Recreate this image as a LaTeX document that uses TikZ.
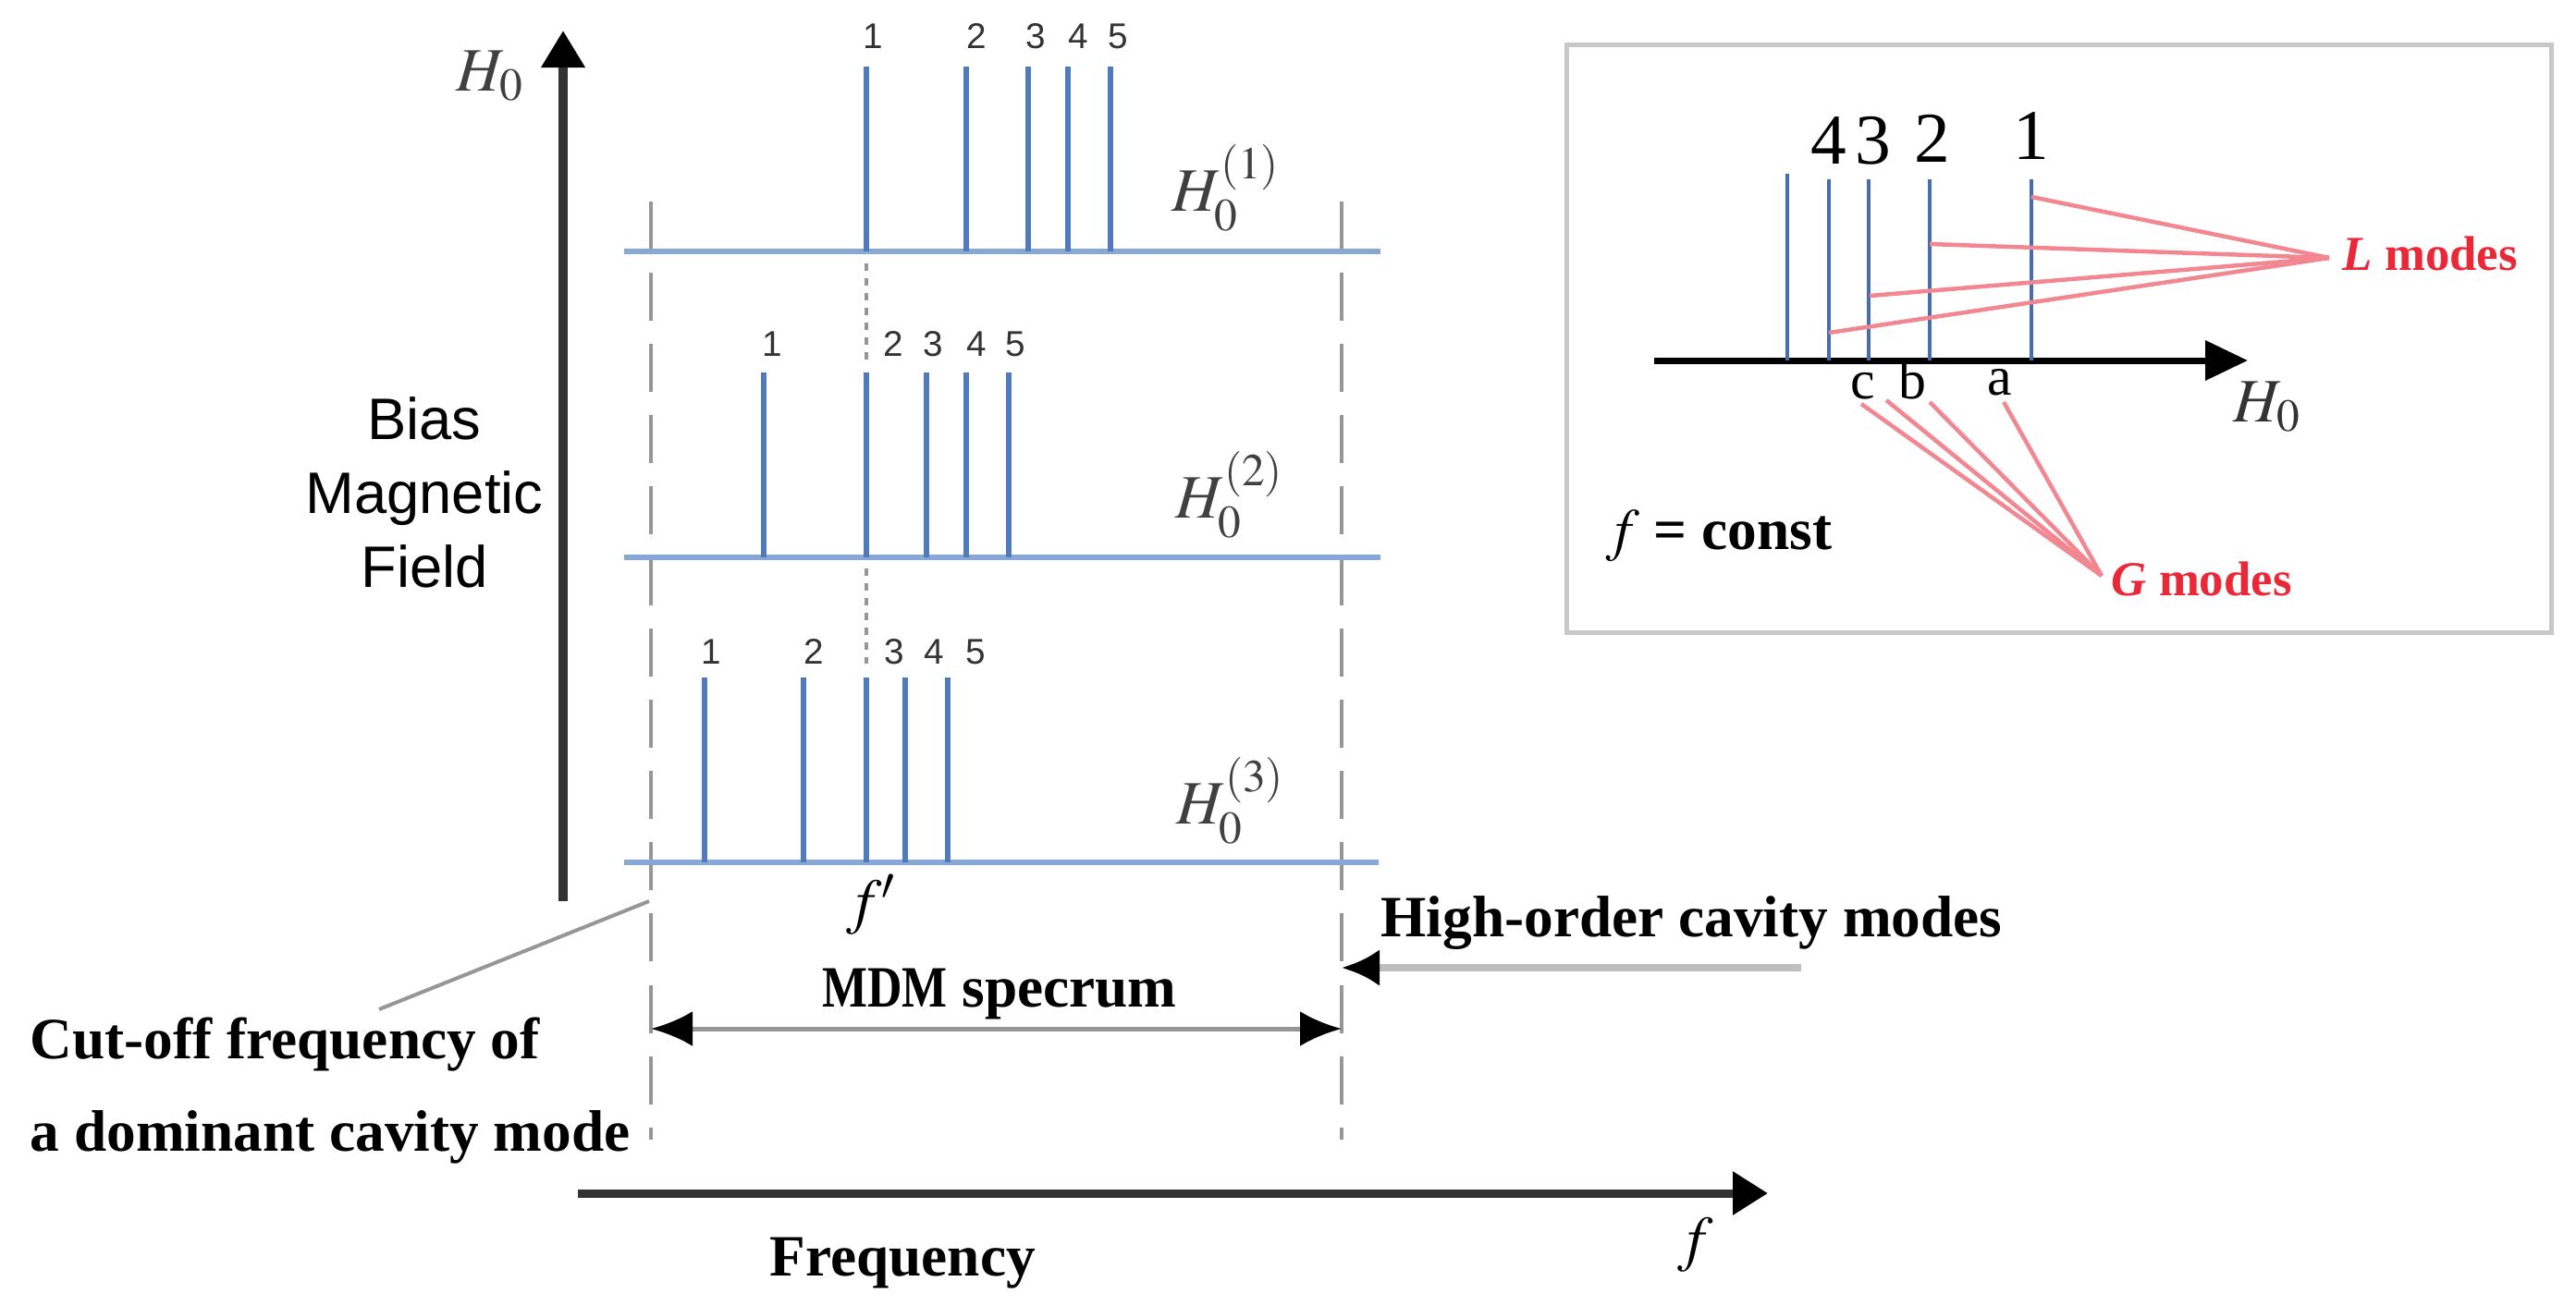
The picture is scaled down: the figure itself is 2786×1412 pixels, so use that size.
\documentclass[tikz,border=0pt]{standalone}
\usepackage{graphicx}
\usepackage{mathptmx}
\usepackage[no-math]{fontspec}
\setmainfont{Liberation Serif}
\setsansfont{Liberation Sans}
\usetikzlibrary{arrows.meta}
\definecolor{baseblue}{RGB}{135,168,212}
\definecolor{spikeblue}{RGB}{80,122,186}
\definecolor{ispikeblue}{RGB}{70,110,175}
\definecolor{dashgray}{RGB}{150,150,150}
\definecolor{axisgray}{RGB}{50,50,50}
\definecolor{modered}{RGB}{235,40,55}
\definecolor{modeline}{RGB}{243,135,145}
\definecolor{boxgray}{RGB}{200,200,200}
\definecolor{leadgray}{RGB}{150,150,150}
\definecolor{hogray}{RGB}{190,190,190}
\begin{document}
\begin{tikzpicture}[x=0.01cm,y=-0.01cm,
  baseln/.style={draw=baseblue,line width=0.06cm},
  spike/.style={draw=spikeblue,line width=0.055cm},
  ispike/.style={draw=ispikeblue,line width=0.045cm},
  guide/.style={draw=dashgray,line width=0.045cm,dash pattern=on 0.52cm off 0.25cm},
  dots/.style={draw=dashgray,line width=0.045cm,dash pattern=on 0.08cm off 0.08cm},
  numlbl/.style={font=\sffamily\fontsize{11}{13}\selectfont,text=black!80,inner sep=0pt},
  bigtxt/.style={font=\bfseries\fontsize{18}{22}\selectfont,inner sep=0pt},
  mathlbl/.style={font=\fontsize{19}{23}\selectfont,inner sep=0pt,text=black!75},
  inum/.style={font=\fontsize{22}{26}\selectfont,inner sep=0pt},
  iletter/.style={font=\fontsize{17}{20}\selectfont,inner sep=0pt},
  redtxt/.style={font=\bfseries\fontsize{15}{18}\selectfont,text=modered,inner sep=0pt},
  redln/.style={draw=modeline,line width=0.045cm}
]
\useasboundingbox (0,0) rectangle (2786,1412);

% ---------- main vertical axis ----------
\coordinate (vbot) at (609,975);
\coordinate (vtop) at (609,33);
\draw[axisgray,line width=0.1cm,-{Triangle[length=0.4cm,width=0.45cm,color=black]}] (vbot) -- (vtop);
\node[mathlbl] (h0top) at (530,82) {$H_0$};
\node[font=\sffamily\fontsize{18}{22.8}\selectfont,align=center,inner sep=0pt] (bias) at (459,533) {Bias\\Magnetic\\Field};

% ---------- dashed guides ----------
\coordinate (gLt) at (704,218); \coordinate (gLb) at (704,1233);
\coordinate (gRt) at (1451,218); \coordinate (gRb) at (1451,1233);
\draw[guide] (gLt) -- (gLb);
\draw[guide] (gRt) -- (gRb);

% ---------- dotted reference line ----------
\coordinate (d1a) at (937,285); \coordinate (d1b) at (937,390);
\coordinate (d2a) at (937,615); \coordinate (d2b) at (937,718);
\draw[dots] (d1a) -- (d1b);
\draw[dots] (d2a) -- (d2b);

% ---------- row 1 ----------
\coordinate (r1L) at (675,272); \coordinate (r1R) at (1493,272);
\draw[baseln] (r1L) -- (r1R);
\foreach \i/\x/\lx in {1/937/944,2/1045/1056,3/1112/1120,4/1155/1166,5/1201/1209}{
  \coordinate (r1b\i) at (\x,272); \coordinate (r1t\i) at (\x,72);
  \draw[spike] (r1b\i) -- (r1t\i);
  \node[numlbl] (r1n\i) at (\lx,39) {\i};
}
\node[mathlbl] (h1) at (1326,203) {$H_0^{(1)}$};

% ---------- row 2 ----------
\coordinate (r2L) at (675,603); \coordinate (r2R) at (1493,603);
\draw[baseln] (r2L) -- (r2R);
\foreach \i/\x/\lx in {1/826/835,2/937/966,3/1002/1009,4/1045/1056,5/1091/1098}{
  \coordinate (r2b\i) at (\x,603); \coordinate (r2t\i) at (\x,403);
  \draw[spike] (r2b\i) -- (r2t\i);
  \node[numlbl] (r2n\i) at (\lx,372) {\i};
}
\node[mathlbl] (h2) at (1330,535) {$H_0^{(2)}$};

% ---------- row 3 ----------
\coordinate (r3L) at (675,933); \coordinate (r3R) at (1491,933);
\draw[baseln] (r3L) -- (r3R);
\foreach \i/\x/\lx in {1/762/769,2/869/880,3/937/967,4/979/1010,5/1025/1055}{
  \coordinate (r3b\i) at (\x,933); \coordinate (r3t\i) at (\x,733);
  \draw[spike] (r3b\i) -- (r3t\i);
  \node[numlbl] (r3n\i) at (\lx,705) {\i};
}
\node[mathlbl] (h3) at (1331,866) {$H_0^{(3)}$};

\node[mathlbl,text=black] (fprime) at (942,979) {$f'$};

% ---------- MDM spectrum ----------
\coordinate (mdmL) at (704,1113); \coordinate (mdmR) at (1451,1113);
\draw[leadgray,line width=0.05cm,{Latex[length=0.45cm,width=0.38cm,color=black]}-{Latex[length=0.45cm,width=0.38cm,color=black]}] (mdmL) -- (mdmR);
\node[bigtxt,anchor=base] (mdm) at (1081,1089) {\scalebox{0.82}[1]{MDM} specrum};

% ---------- high-order ----------
\coordinate (hoA) at (1948,1047); \coordinate (hoB) at (1451,1047);
\draw[hogray,line width=0.08cm,-{Latex[length=0.41cm,width=0.40cm,color=black]}] (hoA) -- (hoB);
\node[bigtxt,anchor=base west] (ho) at (1493,1013) {High-order cavity modes};

% ---------- cut-off ----------
\node[bigtxt,anchor=base west] (cut1) at (32,1145) {Cut-off frequency of};
\node[bigtxt,anchor=base west] (cut2) at (32,1245) {a dominant cavity mode};
\coordinate (cutA) at (702,975); \coordinate (cutB) at (410,1092);
\draw[leadgray,line width=0.04cm] (cutA) -- (cutB);

% ---------- frequency axis ----------
\coordinate (fA) at (625,1291); \coordinate (fB) at (1912,1291);
\draw[axisgray,line width=0.09cm,-{Triangle[length=0.38cm,width=0.45cm,color=black]}] (fA) -- (fB);
\node[bigtxt,anchor=base west] (freq) at (832,1380) {Frequency};
\node[mathlbl,text=black] (fax) at (1834,1347) {$f$};

% ---------- inset ----------
\node[draw=boxgray,line width=0.05cm,minimum width=10.64cm,minimum height=6.35cm,inner sep=0pt] (inset) at (2227,366.5) {};
\coordinate (iaA) at (1789,390); \coordinate (iaB) at (2431,390);
\draw[black,line width=0.07cm,-{Triangle[length=0.46cm,width=0.42cm]}] (iaA) -- (iaB);
\foreach \i/\x/\t in {5/1933/188,4/1978/194,3/2021/194,2/2087/194,1/2197/194}{
  \coordinate (ib\i) at (\x,390); \coordinate (it\i) at (\x,\t);
  \draw[ispike] (ib\i) -- (it\i);
}
\node[inum] (in4) at (1978,152) {4};
\node[inum] (in3) at (2026,152) {3};
\node[inum] (in2) at (2090,150) {2};
\node[inum] (in1) at (2197,147) {1};
\node[iletter,anchor=base] (lc) at (2015,431) {c};
\node[iletter,anchor=base] (lb) at (2068,431) {b};
\node[iletter,anchor=base] (la) at (2163,427) {a};
\node[mathlbl,text=black!80] (h0in) at (2452,440) {$H_0$};
\node[bigtxt,anchor=base west] (fconst) at (1736,594) {$f$ = const};

% L modes
\coordinate (Lc) at (2519,279);
\coordinate (L1) at (2197,213); \coordinate (L2) at (2087,264);
\coordinate (L3) at (2022,320); \coordinate (L4) at (1978,360);
\foreach \k in {1,2,3,4}{\draw[redln] (L\k) -- (Lc);}
\node[redtxt,anchor=base west] (lmodes) at (2533,292) {\textit{L} modes};

% G modes
\coordinate (Gc) at (2273,623);
\coordinate (G1) at (2013,437); \coordinate (G2) at (2040,433);
\coordinate (G3) at (2087,435); \coordinate (G4) at (2167,435);
\foreach \k in {1,2,3,4}{\draw[redln] (G\k) -- (Gc);}
\node[redtxt,anchor=base west] (gmodes) at (2283,644) {\textit{G} modes};
\end{tikzpicture}
\end{document}
